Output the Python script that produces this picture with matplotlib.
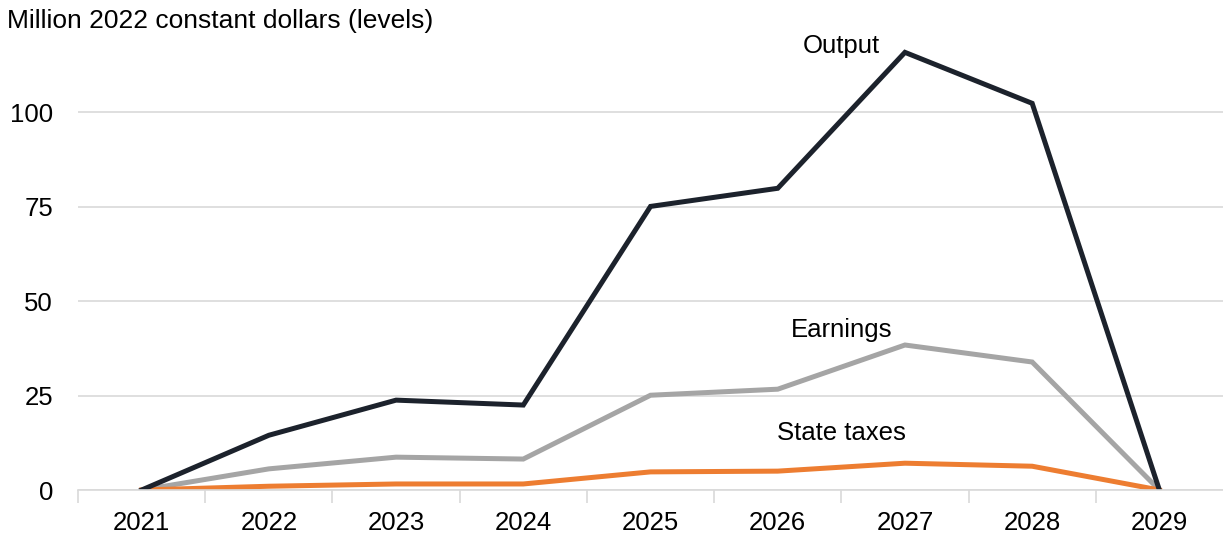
import matplotlib.pyplot as plt
import numpy as np

plt.rcParams['font.family'] = ['Liberation Sans', 'DejaVu Sans']

years = [2021, 2022, 2023, 2024, 2025, 2026, 2027, 2028, 2029]
output = [0, 14.5, 23.8, 22.5, 75.1, 79.9, 115.9, 102.4, 0]
earnings = [0, 5.6, 8.7, 8.2, 25.1, 26.7, 38.4, 33.9, 0]
state_taxes = [0, 1.0, 1.6, 1.6, 4.8, 5.0, 7.1, 6.3, 0]
yticks = [0, 25, 50, 75, 100]

fs = 18.5

fig = plt.figure(figsize=(12.23, 5.37), dpi=100)
ax = fig.add_axes([0.0638, 0.0875, 0.9362, 0.879])

ax.plot(years, earnings, color='#a5a5a5', lw=3.6, solid_joinstyle='miter')
ax.plot(years, state_taxes, color='#ed7d31', lw=3.6, solid_joinstyle='miter')
ax.plot(years, output, color='#1c222c', lw=3.6, solid_joinstyle='miter')

ax.text(2026.5, 117.5, 'Output', ha='center', va='center', fontsize=fs)
ax.text(2026.5, 42.3, 'Earnings', ha='center', va='center', fontsize=fs)
ax.text(2026.5, 15.1, 'State taxes', ha='center', va='center', fontsize=fs)

ax.set_xlim(2020.5, 2029.5)
ax.set_ylim(0, 125)
ax.set_xticks(years)
ax.set_xticklabels([str(y) for y in years])
ax.set_xticks(np.arange(2020.5, 2029, 1.0), minor=True)
ax.set_yticks(yticks)
ax.tick_params(axis='x', which='major', length=0, labelsize=fs, pad=15)
ax.tick_params(axis='x', which='minor', length=9, color='#d9d9d9', width=1.2)
ax.tick_params(axis='y', length=0, labelsize=fs, pad=18)
ax.grid(axis='y', color='#d9d9d9', lw=1.2)
ax.set_axisbelow(True)
for s in ['top', 'right', 'left']:
    ax.spines[s].set_visible(False)
ax.spines['bottom'].set_color('#d9d9d9')
ax.spines['bottom'].set_linewidth(1.2)

fig.text(0.006, 0.96, 'Million 2022 constant dollars (levels)', fontsize=19, ha='left', va='center')

fig.savefig('out.png', dpi=100)
